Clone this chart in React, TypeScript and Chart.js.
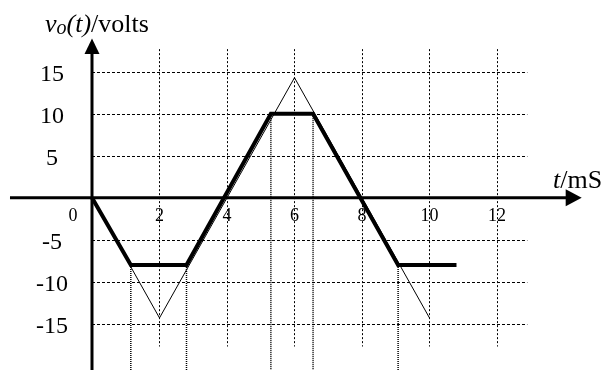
import { useEffect, useRef } from "react";
import { Chart, registerables } from "chart.js";

Chart.register(...registerables);

// Triangle input waveform (thin line): time in ms, voltage in volts
const triangleT = [0, 2, 6, 10];
const triangleV = [0, -14.3, 14.3, -14.3];

// Clipped output waveform (thick line)
const clippedT = [0, 1.15, 2.8, 5.3, 6.55, 9.07, 10.8];
const clippedV = [0, -8, -8, 10, 10, -8, -8];

// Instants where clipping starts/ends (dropped to the bottom with dotted markers)
const markerT = [1.15, 2.8, 5.3, 6.55, 9.07];
const markerV = [-8, -8, 10, 10, -8];

// Tick labels and grid positions
const xTickValues = [0, 2, 4, 6, 8, 10, 12];
const xGridValues = [2, 4, 6, 8, 10, 12];
const yTickValues = [15, 10, 5, -5, -10, -15];

// Visible ranges of the scales (canvas covers them entirely)
const X_MIN = -2.726;
const X_MAX = 15.319;
const Y_MIN = -20.5;
const Y_MAX = 23.55;

// Extents of the dashed grid and the arrowed axes, in data units
const GRID_T_END = 12.9;
const GRID_V_TOP = 17.7;
const GRID_V_BOTTOM = -17.7;
const AXIS_T_START = -2.43;
const AXIS_T_END = 14.51;
const AXIS_V_TOP = 18.96;

const SERIF = "'Liberation Serif', 'Times New Roman', serif";

const scopePlugin = {
  id: "scopeAxes",
  beforeDatasetsDraw(chart: any) {
    const { ctx, scales } = chart;
    const xs = scales.x;
    const ys = scales.y;
    const px = (t: number) => xs.getPixelForValue(t);
    const py = (v: number) => ys.getPixelForValue(v);
    ctx.save();
    ctx.strokeStyle = "#000";
    ctx.lineWidth = 1;

    // horizontal dashed grid
    ctx.setLineDash([3, 2]);
    for (const v of yTickValues) {
      const y = Math.round(py(v)) + 0.5;
      ctx.beginPath();
      ctx.moveTo(px(0), y);
      ctx.lineTo(px(GRID_T_END), y);
      ctx.stroke();
    }
    // vertical dotted grid
    ctx.setLineDash([2, 2]);
    for (const t of xGridValues) {
      const x = Math.round(px(t)) + 0.5;
      ctx.beginPath();
      ctx.moveTo(x, py(GRID_V_TOP));
      ctx.lineTo(x, py(GRID_V_BOTTOM));
      ctx.stroke();
    }

    // axes
    ctx.setLineDash([]);
    ctx.lineWidth = 3;
    ctx.fillStyle = "#000";
    const y0 = py(0);
    const x0 = px(0);
    const xArrowTip = px(AXIS_T_END);
    const yArrowTip = py(AXIS_V_TOP);
    ctx.beginPath();
    ctx.moveTo(px(AXIS_T_START), y0);
    ctx.lineTo(xArrowTip - 10, y0);
    ctx.stroke();
    ctx.beginPath();
    ctx.moveTo(x0, py(Y_MIN));
    ctx.lineTo(x0, yArrowTip + 10);
    ctx.stroke();

    ctx.beginPath();
    ctx.moveTo(xArrowTip, y0);
    ctx.lineTo(xArrowTip - 16, y0 - 8.5);
    ctx.lineTo(xArrowTip - 16, y0 + 8.5);
    ctx.closePath();
    ctx.fill();
    ctx.beginPath();
    ctx.moveTo(x0, yArrowTip);
    ctx.lineTo(x0 - 7.5, yArrowTip + 15.5);
    ctx.lineTo(x0 + 7.5, yArrowTip + 15.5);
    ctx.closePath();
    ctx.fill();
    ctx.restore();
  },
  afterDraw(chart: any) {
    const { ctx, scales } = chart;
    const px = (t: number) => scales.x.getPixelForValue(t);
    const py = (v: number) => scales.y.getPixelForValue(v);
    ctx.save();
    ctx.fillStyle = "#000";
    ctx.textBaseline = "middle";
    ctx.textAlign = "center";

    // y tick labels
    ctx.font = `24px ${SERIF}`;
    for (const v of yTickValues) {
      ctx.fillText(String(v), 52, py(v) + 3);
    }
    // x tick labels
    ctx.font = `18px ${SERIF}`;
    for (const t of xTickValues) {
      const x = t === 0 ? px(0) - 19 : px(t);
      ctx.fillText(String(t), x, py(0) + 18);
    }

    // y axis title: v_o(t)/volts
    ctx.textAlign = "left";
    ctx.textBaseline = "alphabetic";
    let x = 45;
    const base = 32;
    ctx.font = `italic 26px ${SERIF}`;
    ctx.fillText("v", x, base);
    x += ctx.measureText("v").width;
    ctx.font = `italic 20px ${SERIF}`;
    ctx.fillText("o", x, base + 2);
    x += ctx.measureText("o").width;
    ctx.font = `italic 26px ${SERIF}`;
    ctx.fillText("(t)", x, base);
    x += ctx.measureText("(t)").width;
    ctx.font = `26px ${SERIF}`;
    ctx.fillText("/volts", x, base);

    // x axis title: t/mS
    x = 553;
    const base2 = 188;
    ctx.font = `italic 26px ${SERIF}`;
    ctx.fillText("t", x, base2);
    x += ctx.measureText("t").width;
    ctx.font = `26px ${SERIF}`;
    ctx.fillText("/mS", x, base2);
    ctx.restore();
  },
};

export default function App() {
  const canvasRef = useRef<HTMLCanvasElement | null>(null);

  useEffect(() => {
    const canvas = canvasRef.current;
    if (!canvas) return;

    const markerSets = markerT.map((t, i) => ({
      label: `marker${i}`,
      data: [
        { x: t, y: markerV[i] },
        { x: t, y: Y_MIN },
      ],
      borderColor: "#000",
      borderWidth: 1.5,
      borderDash: [1, 1],
      pointRadius: 0,
      showLine: true,
    }));

    const chart = new Chart(canvas, {
      type: "scatter",
      data: {
        datasets: [
          ...markerSets,
          {
            label: "input",
            data: triangleT.map((t, i) => ({ x: t, y: triangleV[i] })),
            borderColor: "#000",
            borderWidth: 1,
            pointRadius: 0,
            showLine: true,
          },
          {
            label: "output",
            data: clippedT.map((t, i) => ({ x: t, y: clippedV[i] })),
            borderColor: "#000",
            borderWidth: 4,
            borderJoinStyle: "miter",
            pointRadius: 0,
            showLine: true,
          },
        ],
      },
      options: {
        animation: false,
        responsive: false,
        layout: { padding: 0 },
        plugins: { legend: { display: false }, tooltip: { enabled: false } },
        scales: {
          x: { type: "linear", min: X_MIN, max: X_MAX, display: false },
          y: { type: "linear", min: Y_MIN, max: Y_MAX, display: false },
        },
      },
      plugins: [scopePlugin],
    } as any);

    return () => chart.destroy();
  }, []);

  return (
    <div style={{ position: "fixed", left: 0, top: 0, width: 609, height: 370, background: "#fff" }}>
      <canvas ref={canvasRef} width={609} height={370} />
    </div>
  );
}
